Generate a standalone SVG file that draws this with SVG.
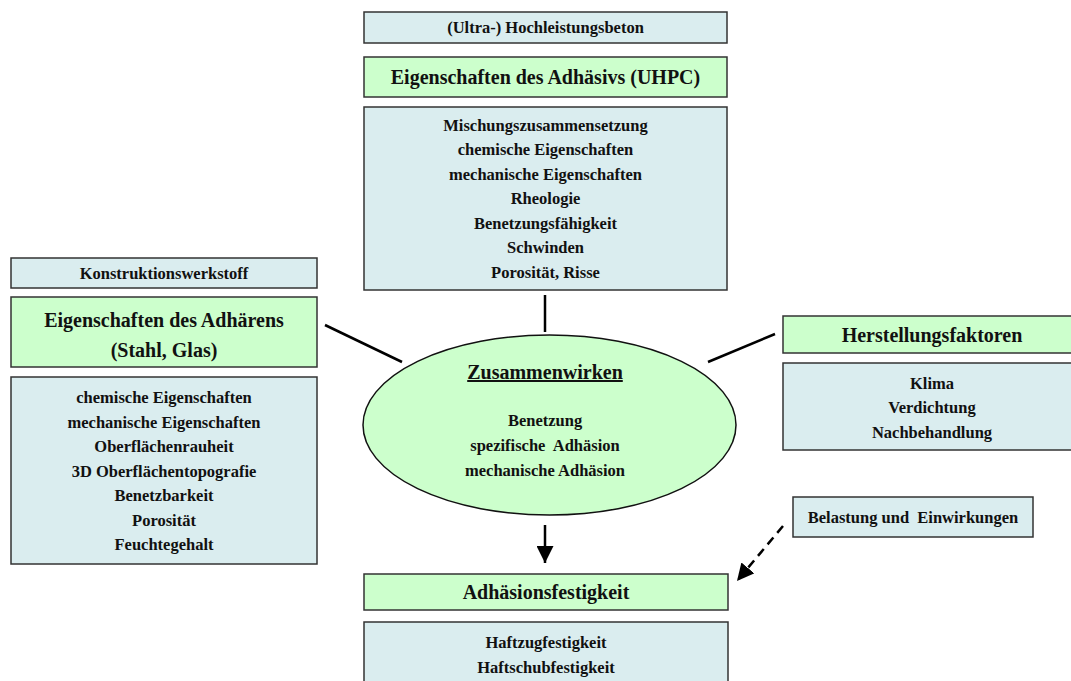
<svg xmlns="http://www.w3.org/2000/svg" width="1071" height="681" viewBox="0 0 1071 681">
<defs>
<style>
text{font-family:"Liberation Serif","Times New Roman",serif;font-weight:bold;fill:#111;text-anchor:middle}
.b{fill:#DAEDEF;stroke:#333;stroke-width:1.5}
.g{fill:#CCFFCC;stroke:#333;stroke-width:1.5}
.s{font-size:16.5px}
.h{font-size:20px}
.c{stroke:#000;stroke-width:2.5;fill:none}
</style>
<marker id="ah2" viewBox="0 0 10 10" refX="10" refY="5" markerWidth="17" markerHeight="17" markerUnits="userSpaceOnUse" orient="auto">
<path d="M0,0 L10,5 L0,10 z" fill="#000"/>
</marker>
</defs>
<rect width="1071" height="681" fill="#fff"/>
<g id="uhpc-label">
<rect class="b" x="364" y="12" width="363" height="31"/>
<text class="s" x="545.5" y="33">(Ultra-) Hochleistungsbeton</text>
</g>
<g id="adhaesiv-header">
<rect class="g" x="364" y="57" width="363" height="40"/>
<text class="h" x="545.5" y="84">Eigenschaften des Adhäsivs (UHPC)</text>
</g>
<g id="adhaesiv-list">
<rect class="b" x="364" y="107" width="363" height="183"/>
<text class="s" x="545.5" y="130.5">Mischungszusammensetzung</text>
<text class="s" x="545.5" y="155">chemische Eigenschaften</text>
<text class="s" x="545.5" y="179.5">mechanische Eigenschaften</text>
<text class="s" x="545.5" y="204">Rheologie</text>
<text class="s" x="545.5" y="228.5">Benetzungsfähigkeit</text>
<text class="s" x="545.5" y="253">Schwinden</text>
<text class="s" x="545.5" y="277.5">Porosität, Risse</text>
</g>
<g id="konstruktion-label">
<rect class="b" x="11" y="258" width="306" height="30"/>
<text class="s" x="164" y="278.5">Konstruktionswerkstoff</text>
</g>
<g id="adhaerens-header">
<rect class="g" x="11" y="297" width="306" height="70"/>
<text class="h" x="164" y="327">Eigenschaften des Adhärens</text>
<text class="h" x="164" y="357">(Stahl, Glas)</text>
</g>
<g id="adhaerens-list">
<rect class="b" x="11" y="377" width="306" height="187"/>
<text class="s" x="164" y="403">chemische Eigenschaften</text>
<text class="s" x="164" y="427.5">mechanische Eigenschaften</text>
<text class="s" x="164" y="452">Oberflächenrauheit</text>
<text class="s" x="164" y="476.5">3D Oberflächentopografie</text>
<text class="s" x="164" y="501">Benetzbarkeit</text>
<text class="s" x="164" y="525.5">Porosität</text>
<text class="s" x="164" y="550">Feuchtegehalt</text>
</g>
<g id="zusammenwirken">
<ellipse cx="549.5" cy="425" rx="186.5" ry="90" fill="#CCFFCC" stroke="#111" stroke-width="1.5"/>
<text class="h" x="545" y="379" text-decoration="underline">Zusammenwirken</text>
<text class="s" x="545" y="425.5">Benetzung</text>
<text class="s" x="545" y="450.5" xml:space="preserve">spezifische  Adhäsion</text>
<text class="s" x="545" y="475.5">mechanische Adhäsion</text>
</g>
<g id="herstellung-header">
<rect class="g" x="783" y="316" width="298" height="37"/>
<text class="h" x="932" y="341.5">Herstellungsfaktoren</text>
</g>
<g id="herstellung-list">
<rect class="b" x="783" y="363" width="298" height="87"/>
<text class="s" x="932" y="388.5">Klima</text>
<text class="s" x="932" y="413">Verdichtung</text>
<text class="s" x="932" y="437.5">Nachbehandlung</text>
</g>
<g id="belastung">
<rect class="b" x="793" y="497" width="240" height="40"/>
<text class="s" x="913" y="522.5" xml:space="preserve">Belastung und  Einwirkungen</text>
</g>
<g id="festigkeit-header">
<rect class="g" x="364" y="574" width="364" height="36"/>
<text class="h" x="546" y="599">Adhäsionsfestigkeit</text>
</g>
<g id="festigkeit-list">
<rect class="b" x="364" y="622" width="364" height="80"/>
<text class="s" x="546" y="647.5">Haftzugfestigkeit</text>
<text class="s" x="546" y="672.5">Haftschubfestigkeit</text>
</g>
<g id="connectors">
<line class="c" x1="545" y1="295" x2="545" y2="332"/>
<line class="c" x1="325" y1="325" x2="402" y2="362"/>
<line class="c" x1="708" y1="362" x2="775" y2="334"/>
<line class="c" x1="545" y1="525" x2="545" y2="563" marker-end="url(#ah2)"/>
<line class="c" x1="783" y1="526" x2="737" y2="581" stroke-dasharray="9,6" marker-end="url(#ah2)"/>
</g>
</svg>
